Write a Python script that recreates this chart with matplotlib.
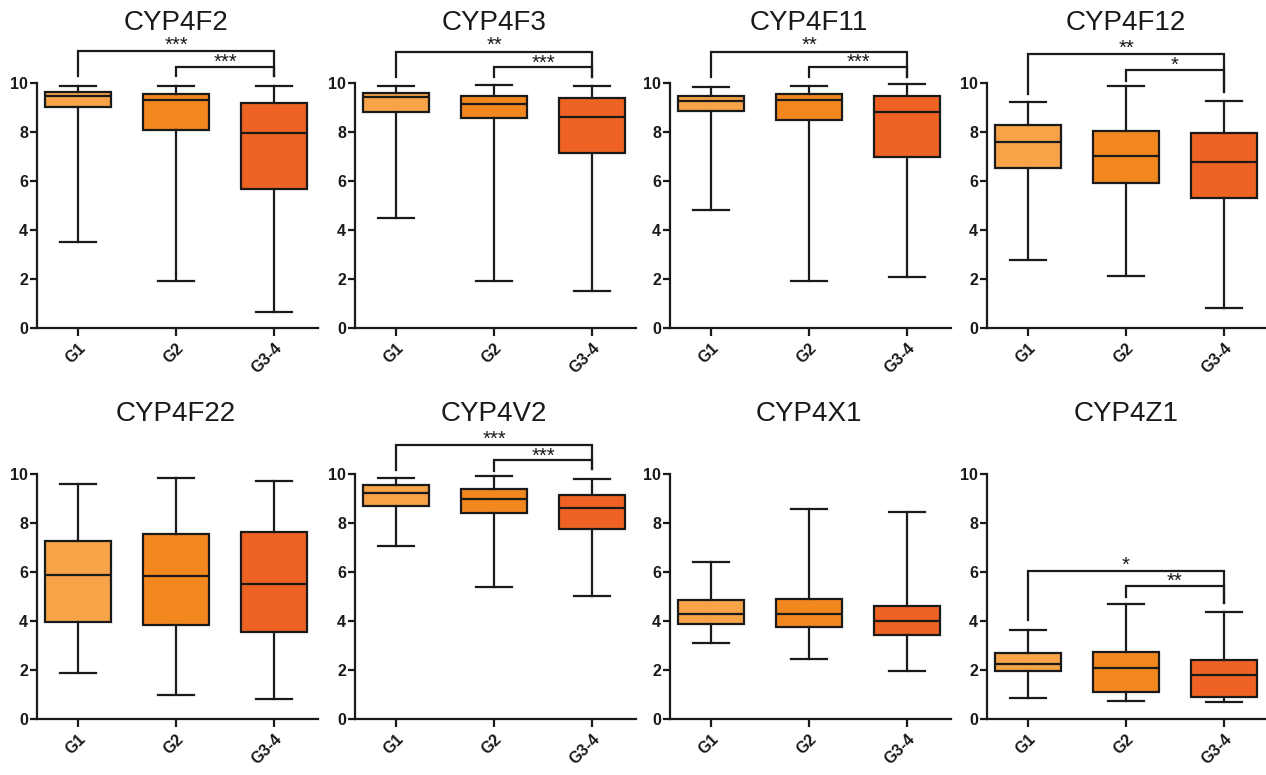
import matplotlib
matplotlib.use("Agg")
import matplotlib.pyplot as plt
import matplotlib.transforms as mtransforms

plt.rcParams['font.family'] = ['Liberation Sans', 'DejaVu Sans']

genes = ["CYP4F2", "CYP4F3", "CYP4F11", "CYP4F12",
         "CYP4F22", "CYP4V2", "CYP4X1", "CYP4Z1"]
groups = ["G1", "G2", "G3-4"]
colors = ["#F7A347", "#F3871F", "#EE6223"]

# box plot stats per gene, one value per group (G1, G2, G3-4)
whis_lo = [[3.5, 1.9, 0.65], [4.5, 1.93, 1.52], [4.79, 1.93, 2.08], [2.79, 2.11, 0.82],
           [1.87, 0.96, 0.83], [7.03, 5.37, 5.03], [3.09, 2.44, 1.94], [0.85, 0.75, 0.68]]
q1 = [[9.0, 8.05, 5.65], [8.82, 8.55, 7.12], [8.85, 8.48, 6.97], [6.5, 5.92, 5.31],
      [3.97, 3.83, 3.54], [8.67, 8.41, 7.76], [3.86, 3.73, 3.43], [1.96, 1.1, 0.89]]
medians = [[9.45, 9.3, 7.95], [9.43, 9.13, 8.59], [9.25, 9.27, 8.82], [7.58, 7.0, 6.78],
           [5.87, 5.84, 5.5], [9.21, 8.98, 8.61], [4.28, 4.28, 4.01], [2.25, 2.07, 1.8]]
q3 = [[9.6, 9.55, 9.15], [9.57, 9.46, 9.36], [9.46, 9.52, 9.44], [8.26, 8.03, 7.93],
      [7.26, 7.52, 7.63], [9.55, 9.39, 9.14], [4.85, 4.89, 4.61], [2.68, 2.71, 2.41]]
whis_hi = [[9.85, 9.85, 9.85], [9.84, 9.9, 9.86], [9.8, 9.85, 9.93], [9.21, 9.84, 9.25],
           [9.59, 9.82, 9.69], [9.8, 9.89, 9.77], [6.41, 8.54, 8.44], [3.63, 4.7, 4.34]]

# significance brackets: G1 vs G3-4 (outer) and G2 vs G3-4 (inner)
outer_y = [11.27, 11.26, 11.26, 11.16, None, 11.16, None, 6.02]
inner_y = [10.65, 10.62, 10.65, 10.52, None, 10.54, None, 5.43]
outer_stars = ["***", "**", "**", "**", "", "***", "", "*"]
inner_stars = ["***", "***", "***", "*", "", "***", "", "**"]
leg_ends = [[10.27, 10.27, 10.27], [10.24, 10.24, 10.24], [10.24, 10.24, 10.24],
            [9.55, 10.07, 9.6], None, [10.16, 10.11, 10.2], None, [4.04, 4.96, 4.72]]

fig = plt.figure(figsize=(12.66, 7.75), dpi=100)

lefts = [0.0292, 0.2804, 0.5292, 0.7796]
bottoms = [0.5768, 0.0723]
w, h = 0.222, 0.380
lw = 1.6
edge = "#1a1a1a"

for i, gene in enumerate(genes):
    row, col = divmod(i, 4)
    ax = fig.add_axes([lefts[col], bottoms[row], w, h])

    stats = []
    for j in range(3):
        stats.append(dict(med=medians[i][j], q1=q1[i][j], q3=q3[i][j],
                          whislo=whis_lo[i][j], whishi=whis_hi[i][j], fliers=[]))
    bp = ax.bxp(stats, positions=[1, 2, 3], widths=0.68, capwidths=0.36,
                patch_artist=True, showfliers=False, manage_ticks=False,
                boxprops=dict(edgecolor=edge, linewidth=lw),
                whiskerprops=dict(color=edge, linewidth=lw),
                capprops=dict(color=edge, linewidth=lw),
                medianprops=dict(color=edge, linewidth=lw))
    for patch, c in zip(bp['boxes'], colors):
        patch.set_facecolor(c)

    ax.set_xlim(0.58, 3.45)
    ax.set_ylim(0, 12)
    ax.set_yticks([0, 2, 4, 6, 8, 10])
    ax.set_xticks([1, 2, 3])
    ax.set_xticklabels(groups, rotation=45, ha='right', va='top',
                       rotation_mode='anchor')
    ax.spines['top'].set_visible(False)
    ax.spines['right'].set_visible(False)
    ax.spines['left'].set_bounds(0, 10)
    for s in ('left', 'bottom'):
        ax.spines[s].set_linewidth(lw)
        ax.spines[s].set_color(edge)
    ax.tick_params(axis='both', width=lw, color=edge, labelsize=11.5, direction='out')
    ax.tick_params(axis='y', length=5, pad=1.5)
    ax.tick_params(axis='x', length=6, pad=3)
    for lab in ax.get_xticklabels() + ax.get_yticklabels():
        lab.set_fontweight('bold')
        lab.set_color(edge)

    trans = mtransforms.blended_transform_factory(ax.transData, ax.transAxes)
    ax.text(2, 1.037, gene, transform=trans, ha='center', va='center',
            fontsize=20, color=edge)

    if outer_y[i] is not None:
        ends = leg_ends[i]
        oy, iy = outer_y[i], inner_y[i]
        ax.plot([1, 1, 3, 3], [ends[0], oy, oy, ends[2]], color=edge,
                linewidth=lw, clip_on=False, solid_joinstyle='miter')
        ax.plot([2, 2, 3, 3], [ends[1], iy, iy, ends[2]], color=edge,
                linewidth=lw, clip_on=False, solid_joinstyle='miter')
        ax.text(2, oy + 0.24, outer_stars[i], ha='center', va='center',
                fontsize=14.5, color=edge)
        ax.text(2.5, iy + 0.17, inner_stars[i], ha='center', va='center',
                fontsize=14.5, color=edge)

fig.savefig("out.png", dpi=100)
